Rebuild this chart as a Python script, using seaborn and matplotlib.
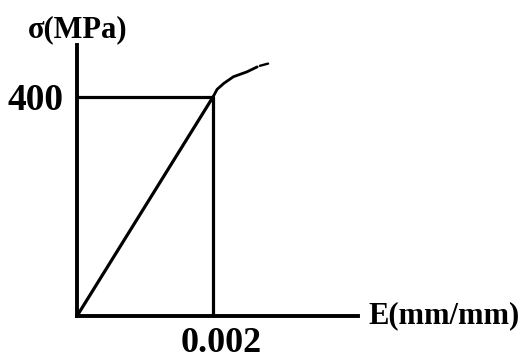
import matplotlib
matplotlib.use("Agg")
import matplotlib.pyplot as plt
import matplotlib.transforms as mtransforms
import seaborn as sns

# data
elastic_strain = [0.0, 0.002]
elastic_stress = [0, 400]
plastic_strain = [0.002, 0.00206, 0.00216, 0.0023, 0.0025, 0.00265]
plastic_stress = [400, 414, 425, 437, 446, 455]
tail_strain = [0.00269, 0.00281]
tail_stress = [457, 461]
yield_strain = 0.002
yield_stress = 400
x_tick_labels = ["0.002"]
y_tick_labels = ["400"]
x_label = "E(mm/mm)"
y_label = "σ(MPa)"

sns.set_style("white")
plt.rcParams['font.family'] = ['Liberation Serif', 'DejaVu Serif']

fig = plt.figure(figsize=(5.28, 3.59), dpi=100)
W, H = 528, 359
ax = fig.add_axes([77 / W, (H - 316) / H, (358 - 77) / W, (316 - 45) / H])

lw = 2.3
kw = dict(ax=ax, color="black", sort=False, estimator=None)
sns.lineplot(x=elastic_strain, y=elastic_stress, lw=lw, **kw)
sns.lineplot(x=plastic_strain, y=plastic_stress, lw=2.0, **kw)
sns.lineplot(x=tail_strain, y=tail_stress, lw=1.7, **kw)
sns.lineplot(x=[0, yield_strain], y=[yield_stress, yield_stress], lw=lw, **kw)
sns.lineplot(x=[yield_strain, yield_strain], y=[0, yield_stress], lw=lw, **kw)

ax.set_xlim(0, (358 - 77) / 136 * 0.002)
ax.set_ylim(0, (316 - 45) / 219 * 400)

for s in ["top", "right"]:
    ax.spines[s].set_visible(False)
for s in ["left", "bottom"]:
    ax.spines[s].set_linewidth(2.8)
    ax.spines[s].set_color("black")

ax.set_xticks([yield_strain])
ax.set_xticklabels(x_tick_labels, fontsize=26, fontweight="bold", color="black")
ax.set_yticks([yield_stress])
ax.set_yticklabels(y_tick_labels, fontsize=27, fontweight="bold", color="black")
ax.tick_params(axis="both", length=0)
ax.tick_params(axis="x", pad=8)
ax.tick_params(axis="y", pad=10)
shift = mtransforms.ScaledTranslation(8 / 100, 0, fig.dpi_scale_trans)
for lab in ax.get_xticklabels():
    lab.set_transform(lab.get_transform() + shift)

ax.text(368 / W, (H - 316) / H, x_label, transform=fig.transFigure,
        fontsize=22, fontweight="bold", ha="left", va="center", color="black")
ax.text(78 / W, (H - 30) / H, y_label, transform=fig.transFigure,
        fontsize=22, fontweight="bold", ha="center", va="center", color="black")

fig.patch.set_facecolor("white")
fig.savefig("out.png", dpi=100, facecolor="white")
